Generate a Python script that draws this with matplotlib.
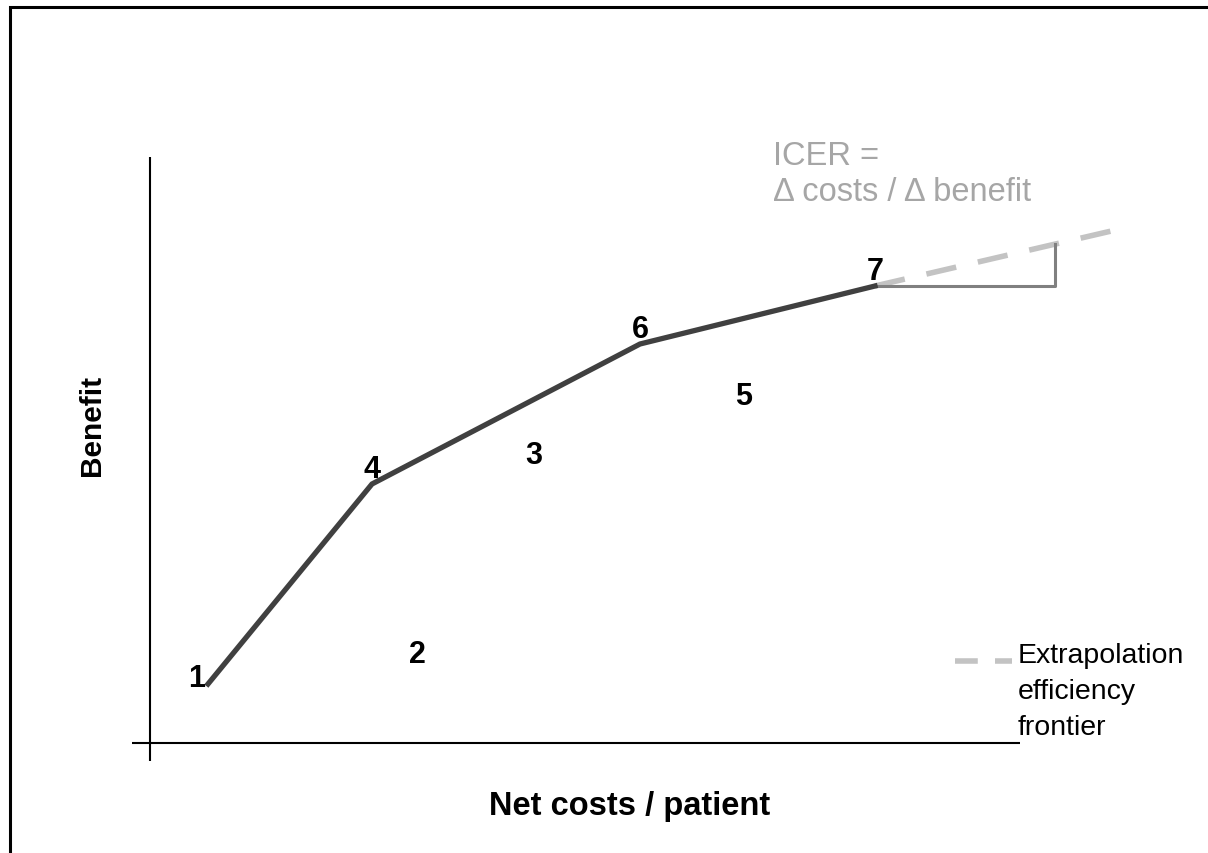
import numpy as np
import matplotlib
matplotlib.use("Agg")
import matplotlib.pyplot as plt
from matplotlib.patches import Rectangle

plt.rcParams['font.family'] = ['Liberation Sans', 'DejaVu Sans']

# strategies on the efficiency frontier (cost, benefit)
frontier_ids = ['1', '4', '6', '7']
frontier_cost = [5.8, 22.2, 49.0, 72.5]
frontier_benefit = [5.9, 25.9, 39.9, 45.7]

# dominated strategies
other_ids = ['2', '3', '5']
other_cost = [26.7, 38.4, 59.4]
other_benefit = [8.9, 28.8, 34.7]

# extrapolation of the last frontier segment
extra_cost = [72.5, 97.0]
extra_benefit = [45.7, 51.4]
icer_cost = 90.5

fig = plt.figure(figsize=(12.08, 8.54), dpi=100)
ax = fig.add_axes([0, 0, 1, 1])
ax.set_xlim(-15, 105.8)
ax.set_ylim(-11.0, 74.4)
ax.axis('off')

# frame (only top and left visible in the original)
fig.add_artist(Rectangle((10 / 1208, -0.2), 1.5, 1.2 - 8 / 854,
                         transform=fig.transFigure, fill=False,
                         edgecolor='black', lw=2.2))

# axes cross
ax.plot([0, 0], [-1.8, 58.6], color='black', lw=1.5, solid_capstyle='butt')
ax.plot([-1.8, 87.0], [0, 0], color='black', lw=1.5, solid_capstyle='butt')

# extrapolation (dashed)
ax.plot(extra_cost, extra_benefit, color='#c3c3c3', lw=4, dashes=(5.5, 4),
        solid_capstyle='butt', zorder=2)

# ICER triangle
icer_top = np.interp(icer_cost, extra_cost, extra_benefit)
ax.plot([extra_cost[0], icer_cost, icer_cost],
        [extra_benefit[0], extra_benefit[0], icer_top],
        color='#808080', lw=2.2, zorder=2)

# efficiency frontier
ax.plot(frontier_cost, frontier_benefit, color='#404040', lw=3.8,
        solid_joinstyle='miter', zorder=3)

for i, (c, b) in enumerate(zip(frontier_cost, frontier_benefit)):
    if i == 0:
        ax.annotate(frontier_ids[i], (c, b), xytext=(-2, 4),
                    textcoords='offset points', ha='right', va='center',
                    fontsize=22, fontweight='bold')
    else:
        ax.annotate(frontier_ids[i], (c, b), xytext=(0, 0),
                    textcoords='offset points', ha='center', va='bottom',
                    fontsize=22, fontweight='bold')

for lab, c, b in zip(other_ids, other_cost, other_benefit):
    ax.text(c, b, lab, ha='center', va='center', fontsize=22,
            fontweight='bold')

# axis titles
ax.text(-5.8, 31.9, 'Benefit', rotation=90, ha='center', va='center',
        fontsize=21.5, fontweight='bold')
ax.text(48.0, -6.3, 'Net costs / patient', ha='center', va='center',
        fontsize=23.5, fontweight='bold')

# ICER annotation
ax.text(62.3, 60.3, 'ICER =\n\u0394 costs / \u0394 benefit', ha='left',
        va='top', fontsize=23.5, color='#a6a6a6', linespacing=1.22)

# legend key
ax.plot([80.5, 86.2], [8.2, 8.2], color='#c3c3c3', lw=4, dashes=(4.1, 3.1),
        solid_capstyle='butt')
ax.text(86.8, 10.1, 'Extrapolation\nefficiency\nfrontier', ha='left',
        va='top', fontsize=20.5, color='black', linespacing=1.5)

fig.savefig('out.png', dpi=100)
